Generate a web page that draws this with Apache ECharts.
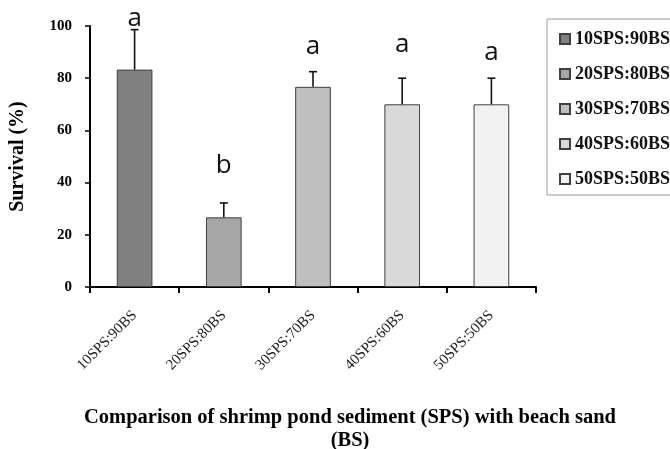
<!DOCTYPE html>
<html>
<head>
<meta charset="utf-8">
<script src="https://cdn.jsdelivr.net/npm/echarts@6/dist/echarts.min.js"></script>
<style>
html,body{margin:0;padding:0;background:#fff;}
#chart{width:670px;height:449px;}
</style>
</head>
<body>
<div id="chart"></div>
<script>
var categories = ['10SPS:90BS', '20SPS:80BS', '30SPS:70BS', '40SPS:60BS', '50SPS:50BS'];
var survival = [83.3, 26.7, 76.7, 70, 70];
var errors = [15.3, 5.5, 5.8, 10, 10];
var letters = ['a', 'b', 'a', 'a', 'a'];
var letterY = [102.7, 46.7, 92.3, 93, 90];
var barColors = ['#808080', '#a6a6a6', '#bfbfbf', '#d9d9d9', '#f2f2f2'];
var yTicks = [0, 20, 40, 60, 80, 100];

var serifFont = '"Liberation Serif", "Times New Roman", serif';

var barSeries = categories.map(function (name, i) {
  return {
    name: name,
    type: 'bar',
    barWidth: '40%',
    barGap: '-100%',
    itemStyle: { color: barColors[i], borderColor: '#404040', borderWidth: 1 },
    data: categories.map(function (c, j) { return j === i ? survival[j] : '-'; }),
    z: 2
  };
});

var errorSeries = {
  type: 'custom',
  name: 'err',
  data: survival.map(function (v, i) { return [i, v, v + errors[i]]; }),
  z: 3,
  silent: true,
  renderItem: function (params, api) {
    var x = api.value(0);
    var p0 = api.coord([x, api.value(1)]);
    var p1 = api.coord([x, api.value(2)]);
    var cap = 4;
    var st = { stroke: '#111', lineWidth: 1.6 };
    return {
      type: 'group',
      children: [
        { type: 'line', shape: { x1: p0[0], y1: p0[1], x2: p1[0], y2: p1[1] }, style: st },
        { type: 'line', shape: { x1: p1[0] - cap, y1: p1[1], x2: p1[0] + cap, y2: p1[1] }, style: st }
      ]
    };
  }
};

var letterSeries = {
  type: 'custom',
  name: 'letters',
  data: letterY.map(function (v, i) { return [i, v]; }),
  z: 4,
  silent: true,
  clip: false,
  renderItem: function (params, api) {
    var p = api.coord([api.value(0), api.value(1)]);
    return {
      type: 'text',
      x: p[0],
      y: p[1],
      style: {
        text: letters[params.dataIndex],
        font: '26px "Open Sans", "Liberation Sans", sans-serif',
        fill: '#111',
        align: 'center',
        verticalAlign: 'middle'
      }
    };
  }
};

var chart = echarts.init(document.getElementById('chart'), null, { renderer: 'canvas' });
chart.setOption({
  animation: false,
  backgroundColor: '#ffffff',
  grid: { left: 90, right: 134, top: 26, bottom: 162, containLabel: false },
  legend: {
    orient: 'vertical',
    left: 547,
    top: 19,
    data: categories,
    icon: 'rect',
    itemWidth: 10,
    itemHeight: 10,
    itemGap: 17,
    padding: [11, 30, 7, 12],
    borderColor: '#999',
    borderWidth: 1,
    textStyle: { fontFamily: serifFont, fontWeight: 'bold', fontSize: 18, color: '#111' }
  },
  xAxis: {
    type: 'category',
    data: categories,
    boundaryGap: true,
    axisLine: { lineStyle: { color: '#000', width: 2 } },
    axisTick: { show: true, length: 6, lineStyle: { color: '#000', width: 2 } },
    axisLabel: {
      rotate: 45,
      margin: 26,
      interval: 0,
      fontFamily: serifFont,
      fontSize: 15,
      color: '#222'
    }
  },
  yAxis: {
    type: 'value',
    min: 0,
    max: 100,
    interval: 20,
    splitLine: { show: false },
    axisLine: { show: true, lineStyle: { color: '#000', width: 2 } },
    axisTick: { show: true, length: 5, lineStyle: { color: '#000', width: 1.5 } },
    axisLabel: {
      margin: 18,
      fontFamily: serifFont,
      fontWeight: 'bold',
      fontSize: 15,
      color: '#000',
      formatter: function (v) { return yTicks.indexOf(v) >= 0 ? String(v) : ''; }
    },
    name: 'Survival (%)',
    nameLocation: 'middle',
    nameGap: 62,
    nameTextStyle: { fontFamily: serifFont, fontWeight: 'bold', fontSize: 20, color: '#000' }
  },
  graphic: [{
    type: 'text',
    x: 350,
    y: 429,
    style: {
      text: 'Comparison of shrimp pond sediment (SPS) with beach sand\n(BS)',
      font: 'bold 20.5px "Liberation Serif", "Times New Roman", serif',
      fill: '#000',
      align: 'center',
      verticalAlign: 'middle',
      lineHeight: 23
    }
  }],
  series: barSeries.concat([errorSeries, letterSeries])
});
</script>
</body>
</html>
